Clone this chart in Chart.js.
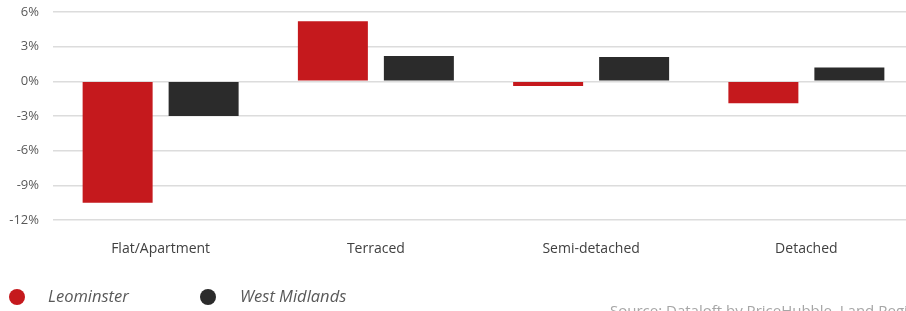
<!DOCTYPE html>
<html><head><meta charset="utf-8">
<script src="https://cdn.jsdelivr.net/npm/chart.js@4/dist/chart.umd.min.js"></script>
<style>html,body{margin:0;padding:0;background:#fff;overflow:hidden;}#wrap{width:906px;height:311px;position:relative;overflow:hidden;}</style>
</head><body><div id="wrap"><canvas id="c" width="914" height="311"></canvas></div>
<script>
const categories = ["Flat/Apartment", "Terraced", "Semi-detached", "Detached"];
const leominster = [-10.5, 5.2, -0.4, -1.9];
const westMidlands = [-3.0, 2.2, 2.1, 1.2];
const seriesNames = ["Leominster", "West Midlands"];
const seriesColors = ["#c5191d", "#2b2b2b"];
const sourceText = "Source: Dataloft by PriceHubble, Land Registry";
const FONT = "'Open Sans', sans-serif";

const extras = {
  id: 'extras',
  afterDraw(chart) {
    const ctx = chart.ctx;
    ctx.save();
    const items = [[17, 48], [208, 240]];
    items.forEach((p, i) => {
      ctx.fillStyle = seriesColors[i];
      ctx.beginPath(); ctx.arc(p[0], 297, 8, 0, Math.PI * 2); ctx.fill();
      ctx.fillStyle = '#595959';
      ctx.font = 'italic 16.5px ' + FONT;
      ctx.textBaseline = 'middle';
      ctx.fillText(seriesNames[i], p[1], 297);
    });
    ctx.fillStyle = '#a6a6a6';
    ctx.font = '15px ' + FONT;
    ctx.textBaseline = 'alphabetic';
    ctx.fillText(sourceText, 610, 316);
    ctx.restore();
  }
};

new Chart(document.getElementById('c'), {
  type: 'bar',
  data: {
    labels: categories,
    datasets: [
      { label: seriesNames[0], data: leominster, backgroundColor: seriesColors[0] },
      { label: seriesNames[1], data: westMidlands, backgroundColor: seriesColors[1] }
    ]
  },
  options: {
    responsive: false, animation: false,
    layout: { padding: { top: 12, right: 0, bottom: 51, left: 0 } },
    plugins: { legend: { display: false }, tooltip: { enabled: false } },
    datasets: { bar: { categoryPercentage: 0.799, barPercentage: 0.814 } },
    scales: {
      x: {
        grid: { display: false, drawTicks: false }, border: { display: false },
        ticks: { color: '#404040', font: { family: FONT, size: 14 }, padding: 21 },
        afterFit(s) { s.height = 40; s.paddingLeft = 0; s.paddingRight = 0; }
      },
      y: {
        min: -12, max: 6,
        grid: { color: '#dcdcdc', drawTicks: false, lineWidth: 1.5 }, border: { display: false },
        ticks: { stepSize: 3, color: '#595959', font: { family: FONT, size: 13 }, padding: 14,
          callback: v => v + '%' },
        afterFit(s) { s.width = 53; s.paddingTop = 0; s.paddingBottom = 0; }
      }
    }
  },
  plugins: [extras]
});
</script></body></html>
